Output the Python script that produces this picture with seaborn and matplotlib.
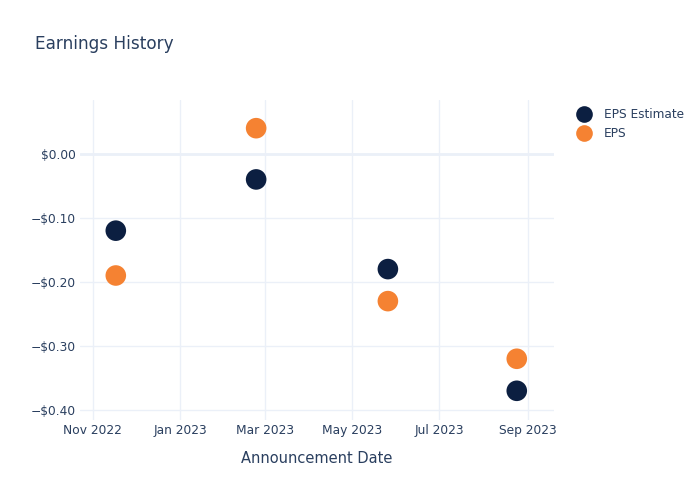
import matplotlib
matplotlib.use("Agg")
import matplotlib.pyplot as plt
import matplotlib.dates as mdates
from matplotlib.ticker import FuncFormatter
from matplotlib.lines import Line2D
import seaborn as sns
import pandas as pd

dates = ["2022-11-17", "2023-02-23", "2023-05-26", "2023-08-24"]
eps_estimate = [-0.12, -0.04, -0.18, -0.37]
eps_actual = [-0.19, 0.04, -0.23, -0.32]
series_names = ["EPS Estimate", "EPS"]
palette = ["#0c1f41", "#f58232"]

df = pd.DataFrame({
    "date": pd.to_datetime(dates * 2),
    "value": eps_estimate + eps_actual,
    "series": [series_names[0]] * len(dates) + [series_names[1]] * len(dates),
})

sns.set_theme(style="white")
plt.rcParams["font.family"] = ["DejaVu Sans"]
text_color = "#2a3f5f"
grid_color = "#ebf0f8"

fig = plt.figure(figsize=(7, 5), dpi=100)
ax = fig.add_axes([80 / 700, 80 / 500, 474 / 700, 320 / 500])

sns.scatterplot(data=df, x="date", y="value", hue="series", hue_order=series_names,
                palette=palette, s=220, linewidth=0, ax=ax, zorder=3, legend=False)

ax.set_xlim(pd.Timestamp("2022-10-23"), pd.Timestamp("2023-09-19"))
ax.set_ylim(-0.4156, 0.084)

ax.xaxis.set_major_locator(mdates.MonthLocator(bymonth=[1, 3, 5, 7, 9, 11]))
ax.xaxis.set_major_formatter(mdates.DateFormatter("%b %Y"))
ax.set_yticks([0.0, -0.1, -0.2, -0.3, -0.4])

def fmt(v, pos):
    if abs(v) < 1e-9:
        return "$0.00"
    s = f"${abs(v):.2f}"
    return ("\u2212" + s) if v < 0 else s

ax.yaxis.set_major_formatter(FuncFormatter(fmt))

ax.grid(True, color=grid_color, linewidth=1, zorder=0)
ax.axhline(0, color=grid_color, linewidth=2, zorder=1)
for sp in ax.spines.values():
    sp.set_visible(False)
ax.tick_params(axis="both", length=0, labelsize=8.8, labelcolor=text_color)
ax.tick_params(axis="x", pad=3)
ax.tick_params(axis="y", pad=3)

ax.set_xlabel("Announcement Date", fontsize=10.5, color=text_color, labelpad=10)
ax.set_ylabel("")

fig.text(35 / 700, 1 - 44 / 500, "Earnings History", fontsize=12.2, color=text_color,
         va="center", ha="left")

handles = [Line2D([], [], marker="o", linestyle="none", markersize=12,
                  markerfacecolor=c, markeredgewidth=0) for c in palette]
fig.legend(handles=handles, labels=series_names, loc="upper left",
           bbox_to_anchor=(574 / 700, 1 - 108 / 500), bbox_transform=fig.transFigure,
           frameon=False, fontsize=8.7, labelcolor=text_color,
           handletextpad=0.9, labelspacing=0.5, borderaxespad=0, borderpad=0,
           handlelength=1.6)

fig.savefig("out.png", dpi=100)
